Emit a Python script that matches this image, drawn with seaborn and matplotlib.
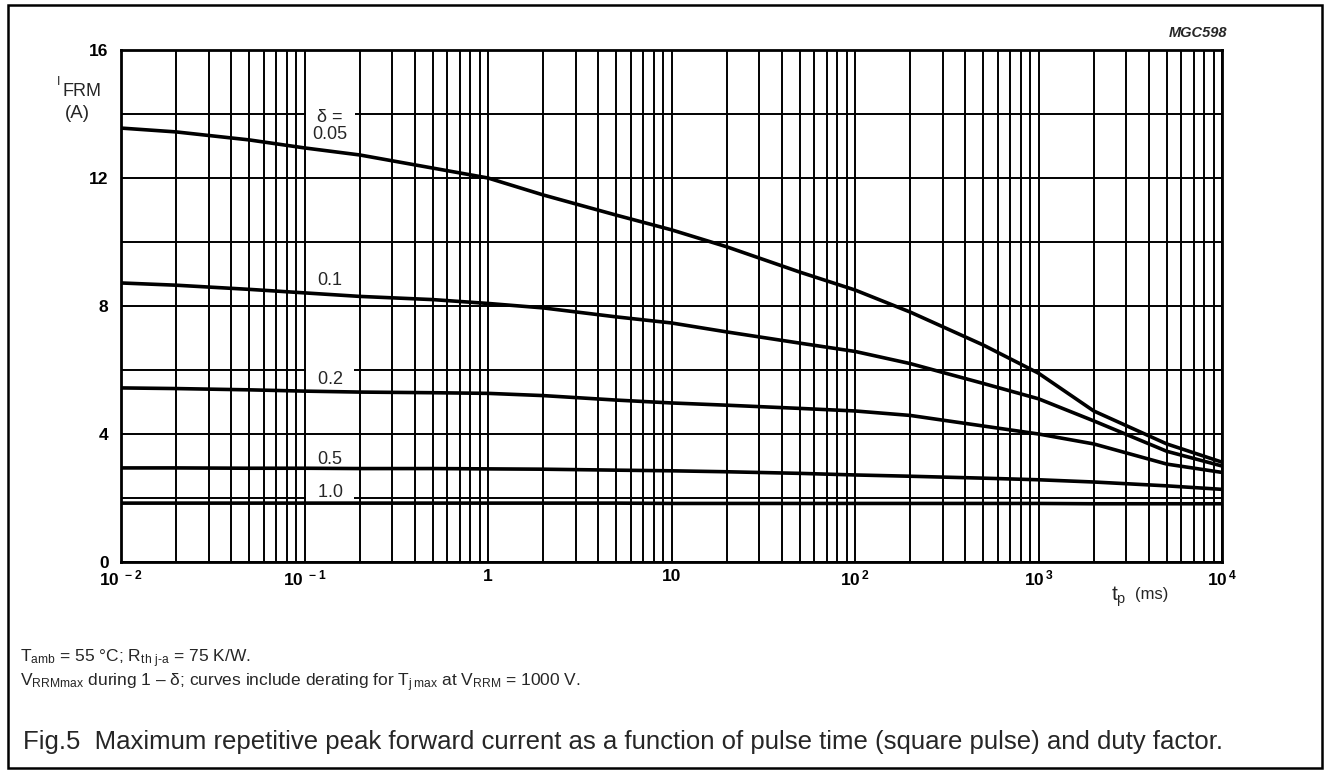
import matplotlib
matplotlib.use("Agg")
import matplotlib.pyplot as plt
from matplotlib.ticker import LogLocator, MultipleLocator, NullFormatter
from matplotlib.patches import Rectangle
import numpy as np
import pandas as pd
import seaborn as sns

# pulse time t_p (ms) and I_FRM (A), one list per duty factor
tp_ms = [0.01, 0.02, 0.05, 0.1, 0.2, 0.5, 1, 2, 5, 10, 20, 50, 100, 200, 500, 1000, 2000, 5000, 10000]
ifrm_005 = [13.56, 13.44, 13.19, 12.94, 12.72, 12.31, 12.0, 11.47, 10.84, 10.38, 9.85, 9.06, 8.5, 7.81, 6.78, 5.9, 4.72, 3.69, 3.12]
ifrm_01 = [8.72, 8.65, 8.52, 8.41, 8.3, 8.2, 8.08, 7.94, 7.66, 7.47, 7.19, 6.84, 6.58, 6.2, 5.58, 5.1, 4.41, 3.46, 3.0]
ifrm_02 = [5.44, 5.42, 5.38, 5.34, 5.31, 5.29, 5.27, 5.2, 5.06, 4.97, 4.9, 4.8, 4.72, 4.58, 4.25, 4.0, 3.69, 3.06, 2.8]
ifrm_05 = [2.94, 2.94, 2.93, 2.93, 2.92, 2.92, 2.91, 2.9, 2.87, 2.85, 2.82, 2.77, 2.72, 2.68, 2.62, 2.57, 2.5, 2.38, 2.27]
ifrm_10 = [1.84, 1.84, 1.84, 1.84, 1.84, 1.84, 1.84, 1.84, 1.84, 1.83, 1.83, 1.83, 1.83, 1.83, 1.83, 1.83, 1.82, 1.82, 1.82]
delta_names = ["0.05", "0.1", "0.2", "0.5", "1.0"]

x_ticks = [1e-2, 1e-1, 1, 10, 1e2, 1e3, 1e4]
x_labels = [r"$10^{\ -2}$", r"$10^{\ -1}$", "1", "10", r"$10^{\,2}$", r"$10^{\,3}$", r"$10^{\,4}$"]
y_ticks = [0, 4, 8, 12, 16]

sns.set_style("white")
plt.rcParams["font.family"] = ["Liberation Sans", "DejaVu Sans"]
plt.rcParams["mathtext.fontset"] = "custom"
plt.rcParams["mathtext.rm"] = "Liberation Sans"
plt.rcParams["mathtext.bf"] = "Liberation Sans:bold"
plt.rcParams["mathtext.default"] = "regular"

W, H = 1324, 776
fig = plt.figure(figsize=(W / 100, H / 100), dpi=100)
ax = fig.add_axes([121 / W, 1 - 562 / H, (1222 - 121) / W, (562 - 50) / H])

df = pd.concat([pd.DataFrame({"tp": tp_ms, "ifrm": v, "delta": d})
                for d, v in zip(delta_names, [ifrm_005, ifrm_01, ifrm_02, ifrm_05, ifrm_10])])
sns.lineplot(data=df, x="tp", y="ifrm", hue="delta", palette=["black"] * 5,
             legend=False, lw=2.6, ax=ax, zorder=3)

ax.set_xscale("log")
ax.set_xlim(1e-2, 1e4)
ax.set_ylim(0, 16)
ax.set_xticks(x_ticks)
ax.set_xticklabels(x_labels, fontweight="bold")
ax.xaxis.set_minor_locator(LogLocator(base=10, subs=np.arange(2, 10), numticks=100))
ax.xaxis.set_minor_formatter(NullFormatter())
ax.set_yticks(y_ticks)
ax.set_yticklabels([str(v) for v in y_ticks], fontweight="bold")
ax.yaxis.set_minor_locator(MultipleLocator(2))
ax.grid(True, which="both", color="black", lw=1.4)
ax.tick_params(which="both", length=0, labelsize=12.5, colors="black")
ax.tick_params(axis="y", pad=9)
ax.tick_params(axis="x", pad=5)
ax.set_xlabel("")
ax.set_ylabel("")
for s in ax.spines.values():
    s.set_color("black")
    s.set_linewidth(2)

# curve labels (white box breaks the grid like the original)
box = dict(boxstyle="square,pad=0.1", fc="white", ec="none")
lab = dict(ha="center", va="center", fontsize=13, zorder=2)
ax.text(0.138, 13.9, "  δ =  ", bbox=box, **lab)
ax.text(0.138, 13.35, "0.05", **lab)
ax.text(0.138, 8.8, "0.1", **lab)
ax.text(0.138, 5.7, "  0.2  ", bbox=box, **lab)
ax.text(0.138, 3.2, "0.5", **lab)
ax.text(0.138, 2.17, "  1.0  ", bbox=box, **lab)


def px(x, y):
    return x / W, 1 - y / H


fig.text(*px(57, 82), "I", fontsize=9, va="center")
fig.text(*px(63, 91), "FRM", fontsize=13, va="center")
fig.text(*px(65, 114), "(A)", fontsize=13.5, va="center")
fig.text(*px(1111, 597), r"$t_{p}$", fontsize=15, va="center")
fig.text(*px(1135, 594), "(ms)", fontsize=12, va="center")
fig.text(*px(1227, 33), "MGC598", fontsize=10.5, style="italic", weight="bold", ha="right", va="center")

fig.text(*px(20, 659), r"T$_{amb}$ = 55 °C; R$_{th\ j\text{-}a}$ = 75 K/W.", fontsize=12.5, va="center")
fig.text(*px(20, 683), r"V$_{RRMmax}$ during 1 – δ; curves include derating for T$_{j\,max}$ at V$_{RRM}$ = 1000 V.",
         fontsize=12.5, va="center")
fig.text(*px(23, 742), "Fig.5  Maximum repetitive peak forward current as a function of pulse time (square pulse) and duty factor.",
         fontsize=18.5, va="center")

fig.patches.append(Rectangle((8 / W, 1 - 768 / H), (1322 - 8) / W, (768 - 5) / H,
                             transform=fig.transFigure, fill=False, ec="black", lw=1.8))

fig.savefig("out.png", dpi=100)
